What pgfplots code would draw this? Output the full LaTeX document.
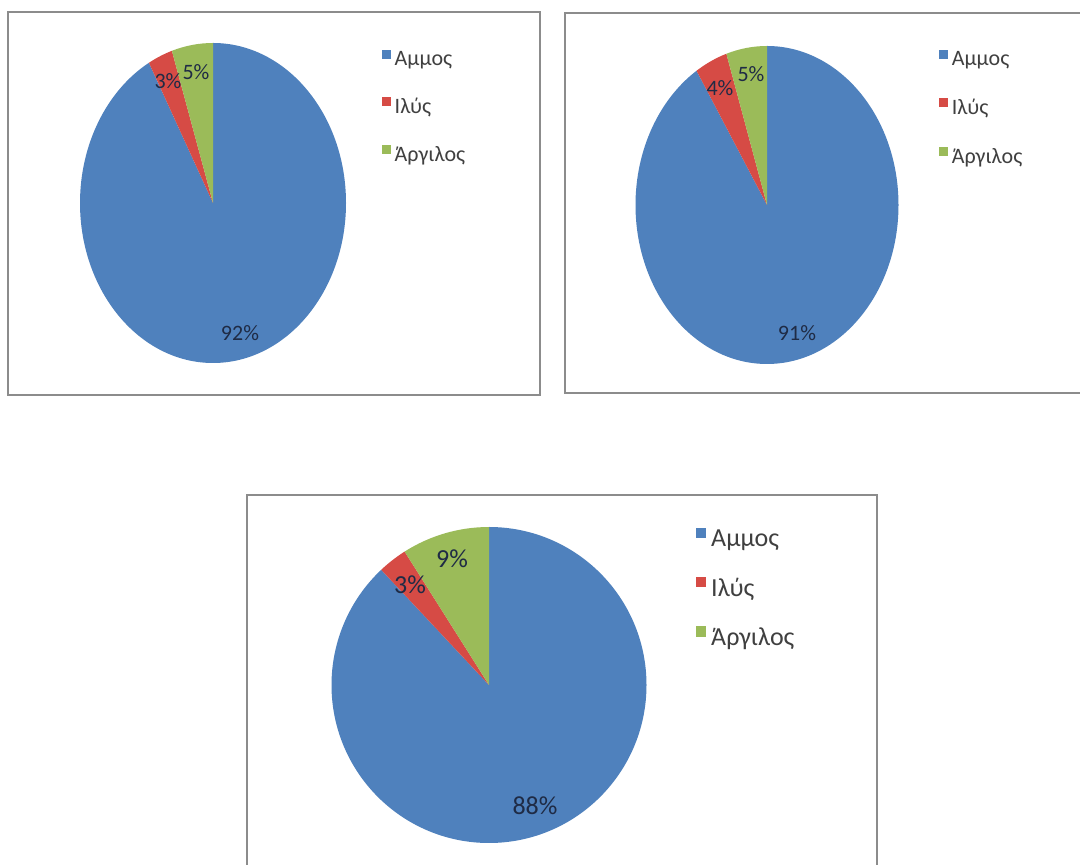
\documentclass[border=0pt]{standalone}
\usepackage{fontspec}
\setmainfont{Carlito}
\usepackage{pgfplots}
\pgfplotsset{compat=1.18}
\definecolor{amC}{HTML}{4F81BD}
\definecolor{ilC}{HTML}{D64B45}
\definecolor{arC}{HTML}{9BBB59}
\definecolor{frameC}{HTML}{8C8C8C}
\definecolor{legC}{HTML}{404040}
\definecolor{labC}{HTML}{1F2B45}

% slice: colour, start angle, end angle, x radius, y radius (axis units = 1pt)
\newcommand\slice[5]{%
  \fill[#1] (axis cs:0,0) -- (axis cs:{#4*cos(#2)},{#5*sin(#2)})
    arc[start angle=#2, end angle=#3, x radius=#4pt, y radius=#5pt] -- cycle;}

% values (percent)
\pgfmathsetmacro\aAa{90-3.6*92}\pgfmathsetmacro\aIa{\aAa-3.6*3}\pgfmathsetmacro\aGa{\aIa-3.6*5}
\pgfmathsetmacro\aAb{90-3.6*91}\pgfmathsetmacro\aIb{\aAb-3.6*4}\pgfmathsetmacro\aGb{\aIb-3.6*5}
\pgfmathsetmacro\aAc{90-3.6*88}\pgfmathsetmacro\aIc{\aAc-3.6*3}\pgfmathsetmacro\aGc{\aIc-3.6*9}

\pgfplotsset{
  piebase/.style={hide axis, x=1pt, y=1pt, xmin=-300, xmax=300, ymin=-200, ymax=200,
    clip=false, anchor=center, legend cell align=left},
  sqA/.style={legend image code/.code={\fill[##1] (0pt,0.5pt) rectangle (8.5pt,9.5pt);}},
  sqB/.style={legend image code/.code={\fill[##1] (0pt,0.5pt) rectangle (10pt,11pt);}},
}
\newcommand\fA{\fontsize{22}{26}\selectfont}
\newcommand\fB{\fontsize{26}{30}\selectfont}
\begin{document}
\begin{tikzpicture}
\useasboundingbox (0,0) rectangle (1080pt,865pt);
\clip (0,0) rectangle (1080pt,865pt);
\fill[white] (0,0) rectangle (1080pt,865pt);
\draw[frameC, line width=1.5pt] (8pt,853pt) rectangle (540pt,470pt);
\draw[frameC, line width=1.5pt] (565pt,852pt) rectangle (1095pt,472pt);
\draw[frameC, line width=1.5pt] (247pt,370pt) rectangle (877pt,-10pt);

% ---- pie 1 ----
\begin{axis}[piebase, sqA, at={(213pt,662pt)},
  legend style={at={(0.7817,0.884)}, anchor=north west, draw=none, fill=none,
    inner sep=0pt, font=\fA, text=legC, row sep=27pt, column sep=2pt}]
\addlegendimage{fill=amC, draw=none}\addlegendentry{Αμμος}
\addlegendimage{fill=ilC, draw=none}\addlegendentry{Ιλύς}
\addlegendimage{fill=arC, draw=none}\addlegendentry{Άργιλος}
\slice{amC}{90}{\aAa}{133}{160}
\slice{ilC}{\aAa}{\aIa}{133}{160}
\slice{arC}{\aIa}{\aGa}{133}{160}
\node[font=\fA, text=labC] at (axis cs:-45,122) {3\%};
\node[font=\fA, text=labC] at (axis cs:-17,131) {5\%};
\node[font=\fA, text=labC] at (axis cs:27,-130) {92\%};
\end{axis}

% ---- pie 2 ----
\begin{axis}[piebase, sqA, at={(767pt,660pt)},
  legend style={at={(0.787,0.889)}, anchor=north west, draw=none, fill=none,
    inner sep=0pt, font=\fA, text=legC, row sep=28pt, column sep=2pt}]
\addlegendimage{fill=amC, draw=none}\addlegendentry{Αμμος}
\addlegendimage{fill=ilC, draw=none}\addlegendentry{Ιλύς}
\addlegendimage{fill=arC, draw=none}\addlegendentry{Άργιλος}
\slice{amC}{90}{\aAb}{131.5}{159}
\slice{ilC}{\aAb}{\aIb}{131.5}{159}
\slice{arC}{\aIb}{\aGb}{131.5}{159}
\node[font=\fA, text=labC] at (axis cs:-47,117) {4\%};
\node[font=\fA, text=labC] at (axis cs:-16,131) {5\%};
\node[font=\fA, text=labC] at (axis cs:30,-128) {91\%};
\end{axis}

% ---- pie 3 ----
\begin{axis}[piebase, sqB, at={(489pt,180pt)},
  legend style={at={(0.845,0.894)}, anchor=north west, draw=none, fill=none,
    inner sep=0pt, font=\fB, text=legC, row sep=26pt, column sep=3pt}]
\addlegendimage{fill=amC, draw=none}\addlegendentry{Αμμος}
\addlegendimage{fill=ilC, draw=none}\addlegendentry{Ιλύς}
\addlegendimage{fill=arC, draw=none}\addlegendentry{Άργιλος}
\slice{amC}{90}{\aAc}{157.5}{158}
\slice{ilC}{\aAc}{\aIc}{157.5}{158}
\slice{arC}{\aIc}{\aGc}{157.5}{158}
\node[font=\fB, text=labC] at (axis cs:-79,100) {3\%};
\node[font=\fB, text=labC] at (axis cs:-37,126) {9\%};
\node[font=\fB, text=labC] at (axis cs:46,-121) {88\%};
\end{axis}
\end{tikzpicture}
\end{document}
